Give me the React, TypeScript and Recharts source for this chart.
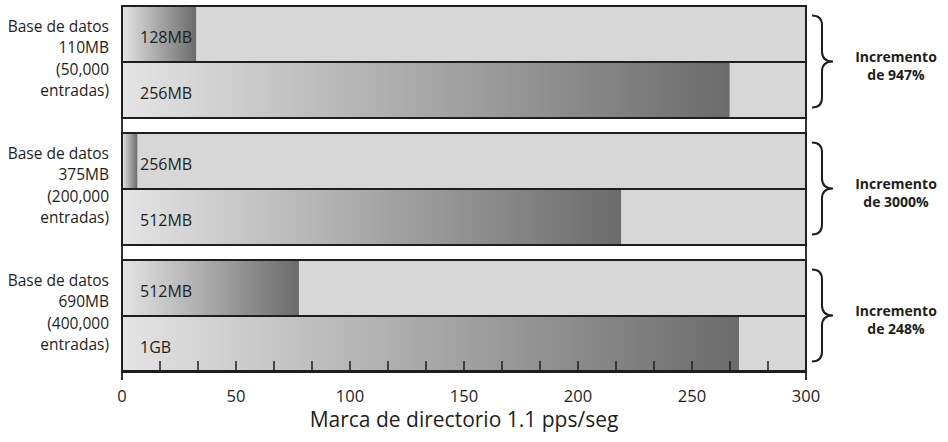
import React from 'react';
import { BarChart, Bar, XAxis, YAxis, LabelList } from 'recharts';

// one row per database size, top bar = smaller memory, bottom bar = larger memory
const databases = ['110MB', '375MB', '690MB'];
const entries = ['(50,000', '(200,000', '(400,000'];
const smallMem = [32.5, 6.7, 77.6];
const largeMem = [266.5, 218.9, 270.6];
const smallMemLabels = ['128MB', '256MB', '512MB'];
const largeMemLabels = ['256MB', '512MB', '1GB'];
const increments = ['947%', '3000%', '248%'];
const xTicks = [
  0, 16.67, 33.33, 50, 66.67, 83.33, 100, 116.67, 133.33, 150, 166.67, 183.33,
  200, 216.67, 233.33, 250, 266.67, 283.33, 300,
];

const data = databases.map((db, i) => ({
  db,
  entries: entries[i],
  small: smallMem[i],
  large: largeMem[i],
  smallLabel: smallMemLabels[i],
  largeLabel: largeMemLabels[i],
  increment: increments[i],
}));

const FONT = '"Open Sans", sans-serif';
const INK = '#1e1e1e';

const MemBar = (props: any) => {
  const { x, y, width, height } = props;
  return (
    <g>
      <rect x={x} y={y} width={width} height={height} fill="url(#memGrad)" />
      <path
        d={`M${x},${y}H${x + width}M${x},${y + height}H${x + width}M${x},${y}V${y + height}`}
        stroke={INK}
        strokeWidth={1.8}
        fill="none"
      />
    </g>
  );
};

const BarText = (props: any) => {
  const { x, y, height, value } = props;
  return (
    <text x={x + 18} y={y + height / 2 + 8.5} fontFamily={FONT} fontSize={16} fill={INK}>
      {value}
    </text>
  );
};

const LeftTick = (props: any) => {
  const { x, y, payload, index } = props;
  const lines = ['Base de datos', payload.value, entries[index], 'entradas)'];
  const offsets = [-30, -8.5, 13, 34.5];
  return (
    <g>
      {lines.map((l, i) => (
        <text key={i} x={x} y={y + offsets[i]} textAnchor="end" fontFamily={FONT} fontSize={15.5} fill={INK}>
          {l}
        </text>
      ))}
    </g>
  );
};

const RightTick = (props: any) => {
  const { x, y, index } = props;
  const a = x + 6;
  const m = x + 16;
  const t = x + 27;
  const d = `M${a},${y - 46} Q${m},${y - 46} ${m},${y - 36} V${y - 10} Q${m},${y} ${t},${y} Q${m},${y} ${m},${y + 10} V${y + 36} Q${m},${y + 46} ${a},${y + 46}`;
  return (
    <g>
      <path d={d} stroke={INK} strokeWidth={2} fill="none" />
      <text x={x + 90} y={y} textAnchor="middle" fontFamily={FONT} fontWeight={700} fontSize={14} fill={INK}>
        Incremento
      </text>
      <text x={x + 90} y={y + 18} textAnchor="middle" fontFamily={FONT} fontWeight={700} fontSize={14} fill={INK}>
        {`de ${increments[index]}`}
      </text>
    </g>
  );
};

const XTick = (props: any) => {
  const { x, y, payload } = props;
  const v = Math.round(payload.value);
  if (Math.abs(payload.value - v) > 0.01 || v % 50 !== 0) return null;
  const axisY = y - 19;
  return (
    <g>
      <text x={x} y={y + 12} textAnchor="middle" fontFamily={FONT} fontSize={16.5} fill={INK}>
        {v}
      </text>
      {(v === 0 || v === 300) && (
        <line x1={x} x2={x} y1={axisY} y2={axisY + 9} stroke={INK} strokeWidth={1.8} />
      )}
    </g>
  );
};

export default function App() {
  return (
    <div style={{ position: 'absolute', left: 0, top: 0, background: '#fff' }}>
      <BarChart
        width={948}
        height={442}
        data={data}
        layout="vertical"
        margin={{ top: 6, right: 0, bottom: 0, left: 0 }}
        barCategoryGap={8}
        barGap={0}
      >
        <defs>
          <linearGradient id="memGrad" x1="0" y1="0" x2="1" y2="0">
            <stop offset="0" stopColor="#e4e4e4" />
            <stop offset="1" stopColor="#6b6b6b" />
          </linearGradient>
        </defs>
        <Bar
          dataKey="small"
          yAxisId="left"
          isAnimationActive={false}
          shape={<MemBar />}
          background={{ fill: '#d7d7d7', stroke: INK, strokeWidth: 1.8 }}
        >
          <LabelList dataKey="smallLabel" content={<BarText />} />
        </Bar>
        <Bar
          dataKey="large"
          yAxisId="left"
          isAnimationActive={false}
          shape={<MemBar />}
          background={{ fill: '#d7d7d7', stroke: INK, strokeWidth: 1.8 }}
        >
          <LabelList dataKey="largeLabel" content={<BarText />} />
        </Bar>
        <XAxis
          type="number"
          domain={[0, 300]}
          ticks={xTicks}
          interval={0}
          height={71}
          tickSize={-10}
          tickMargin={29}
          tick={<XTick />}
          tickLine={{ stroke: INK, strokeWidth: 1.5 }}
          axisLine={{ stroke: INK, strokeWidth: 1.8 }}
          label={{
            value: 'Marca de directorio 1.1 pps/seg',
            position: 'insideBottom',
            offset: 15,
            style: { fontFamily: FONT, fontSize: 21, fill: INK },
          }}
        />
        <YAxis
          yAxisId="left"
          type="category"
          dataKey="db"
          width={122}
          padding={{ top: -8, bottom: -8 }}
          tickSize={0}
          tickMargin={13}
          tickLine={false}
          tick={<LeftTick />}
          axisLine={{ stroke: INK, strokeWidth: 1.8 }}
        />
        <YAxis
          yAxisId="right"
          orientation="right"
          type="category"
          dataKey="db"
          width={142}
          padding={{ top: -8, bottom: -8 }}
          tickSize={0}
          tickMargin={0}
          tickLine={false}
          tick={<RightTick />}
          axisLine={{ stroke: INK, strokeWidth: 1.8 }}
        />
      </BarChart>
    </div>
  );
}
